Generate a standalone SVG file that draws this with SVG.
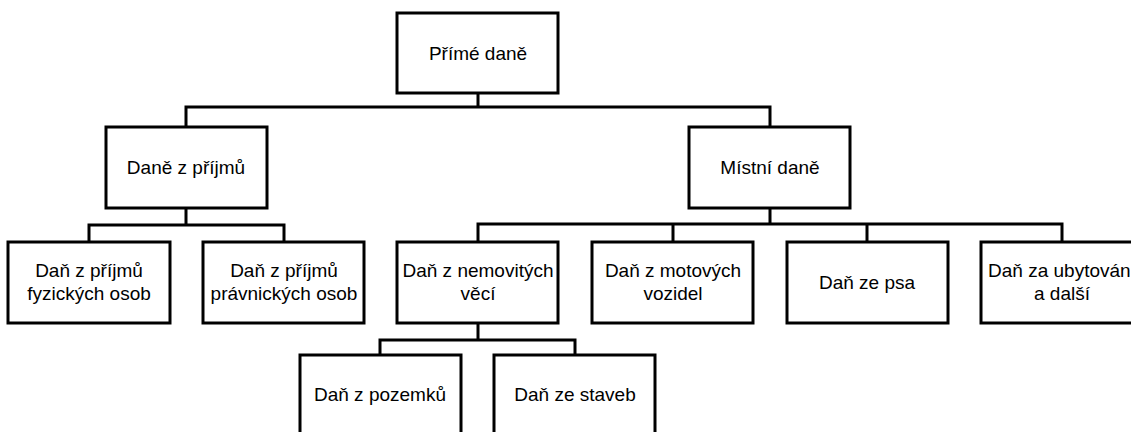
<svg xmlns="http://www.w3.org/2000/svg" width="1131" height="432" viewBox="0 0 1131 432">
<style>
.box{fill:#fff;stroke:#000;stroke-width:3}
.con{fill:none;stroke:#000;stroke-width:3;stroke-linecap:square}
text{font-family:"Liberation Sans",Arial,sans-serif;font-size:19px;fill:#000;text-anchor:middle}
</style>
<rect width="1131" height="432" fill="#fff"/>
<g id="connectors">
<path class="con" d="M478 93V107M186 107H770M186 107V127M770 107V127"/>
<path class="con" d="M186 208V225M89 225H284M89 225V242M284 225V242"/>
<path class="con" d="M770 208V224M478 224H1062M478 224V242M673 224V242M867 224V242M1062 224V242"/>
<path class="con" d="M478 323V340M380 340H575M380 340V355M575 340V355"/>
</g>
<g id="n-prime"><rect class="box" x="397" y="13" width="161" height="80"/><text x="478" y="60">Přímé daně</text></g>
<g id="n-prijmy"><rect class="box" x="106" y="127" width="161" height="81"/><text x="186" y="174">Daně z příjmů</text></g>
<g id="n-mistni"><rect class="box" x="689" y="127" width="161" height="81"/><text x="770" y="174">Místní daně</text></g>
<g id="n-fo"><rect class="box" x="8" y="242" width="162" height="81"/><text x="89" y="277">Daň z příjmů</text><text x="89" y="300">fyzických osob</text></g>
<g id="n-po"><rect class="box" x="203" y="242" width="161" height="81"/><text x="284" y="277">Daň z příjmů</text><text x="284" y="300">právnických osob</text></g>
<g id="n-nemovit"><rect class="box" x="397" y="242" width="161" height="81"/><text x="478" y="277">Daň z nemovitých</text><text x="478" y="300">věcí</text></g>
<g id="n-vozidla"><rect class="box" x="592" y="242" width="161" height="81"/><text x="673" y="277">Daň z motových</text><text x="673" y="300">vozidel</text></g>
<g id="n-pes"><rect class="box" x="787" y="242" width="161" height="81"/><text x="867" y="289">Daň ze psa</text></g>
<g id="n-ubyt"><rect class="box" x="981" y="242" width="161" height="81"/><text x="1062" y="277">Daň za ubytování</text><text x="1062" y="300">a další</text></g>
<g id="n-pozemky"><rect class="box" x="300" y="355" width="161" height="81"/><text x="380" y="401">Daň z pozemků</text></g>
<g id="n-stavby"><rect class="box" x="494" y="355" width="161" height="81"/><text x="575" y="401">Daň ze staveb</text></g>
</svg>
